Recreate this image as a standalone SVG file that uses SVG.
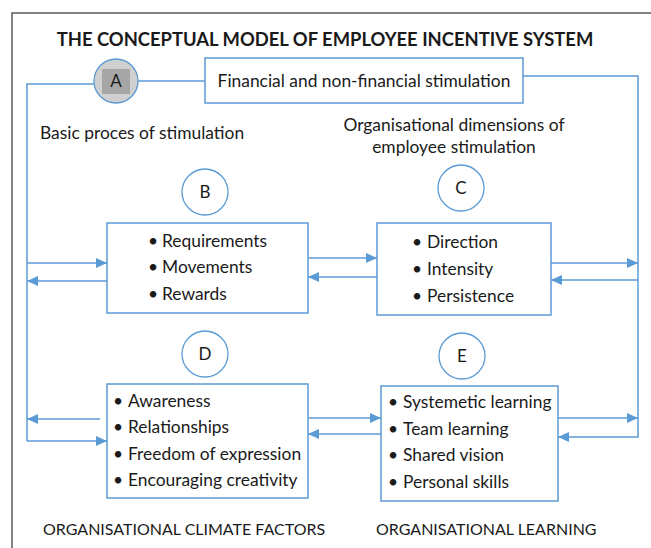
<svg xmlns="http://www.w3.org/2000/svg" width="651" height="548" viewBox="0 0 651 548">
<style>
text{font-family:Lato,"Open Sans","Liberation Sans",sans-serif;fill:#1a1a1a}
.t{font-size:17.4px}
.b{font-size:17.4px;text-anchor:middle}
.cap{font-size:16px}
.circ{fill:#fff;stroke:#5b9bd5;stroke-width:1.3}
.box{fill:#fff;stroke:#5b9bd5;stroke-width:1.5}
.ln{fill:none;stroke:#5b9bd5;stroke-width:1.5}
.ltr{font-size:17px;text-anchor:middle}
</style>
<defs>
<marker id="ah" markerUnits="userSpaceOnUse" markerWidth="12" markerHeight="12" refX="11" refY="6" orient="auto">
<path d="M0,1 L11,6 L0,11 Z" fill="#5b9bd5"/>
</marker>
</defs>
<rect width="651" height="548" fill="#fff"/>
<rect x="12" y="13" width="700" height="600" fill="none" stroke="#595959" stroke-width="1.5"/>
<text x="325" y="46" font-size="18.4" font-weight="bold" text-anchor="middle">THE CONCEPTUAL MODEL OF EMPLOYEE INCENTIVE SYSTEM</text>
<g id="connectors">
<path class="ln" d="M27,441 V84 H94"/>
<path class="ln" d="M138,81 H205"/>
<path class="ln" d="M523,76 H638 V437 H558" marker-end="url(#ah)"/>
<path class="ln" d="M27,263 H107" marker-end="url(#ah)"/>
<path class="ln" d="M107,281 H27" marker-end="url(#ah)"/>
<path class="ln" d="M308,258 H377" marker-end="url(#ah)"/>
<path class="ln" d="M377,277 H308" marker-end="url(#ah)"/>
<path class="ln" d="M551,263 H638" marker-end="url(#ah)"/>
<path class="ln" d="M638,280 H551" marker-end="url(#ah)"/>
<path class="ln" d="M100,419 H27" marker-end="url(#ah)"/>
<path class="ln" d="M27,441 H107" marker-end="url(#ah)"/>
<path class="ln" d="M308,418 H381" marker-end="url(#ah)"/>
<path class="ln" d="M381,434 H308" marker-end="url(#ah)"/>
<path class="ln" d="M558,418 H638" marker-end="url(#ah)"/>
</g>
<g id="nodeA">
<circle cx="116" cy="81" r="22" fill="#d0d0d0" stroke="#5b9bd5" stroke-width="1.3"/>
<rect x="102" y="69" width="28" height="25" fill="#a6a6a6"/>
<text class="ltr" x="116" y="87">A</text>
</g>
<g id="financial">
<rect class="box" x="205" y="58" width="318" height="45"/>
<text class="t" x="364" y="87" text-anchor="middle">Financial and non-financial stimulation</text>
</g>
<g id="labels">
<text class="t" x="40" y="139">Basic proces of stimulation</text>
<text class="t" x="454" y="131" text-anchor="middle">Organisational dimensions of</text>
<text class="t" x="454" y="153" text-anchor="middle">employee stimulation</text>
<text class="cap" x="43" y="535">ORGANISATIONAL CLIMATE FACTORS</text>
<text class="cap" x="376" y="535">ORGANISATIONAL LEARNING</text>
</g>
<g id="nodeB">
<circle class="circ" cx="205" cy="192" r="23"/>
<text class="ltr" x="205" y="198">B</text>
<rect class="box" x="107" y="223" width="201" height="90"/>
<text class="b" x="153" y="247">•</text><text class="t" x="162" y="247">Requirements</text>
<text class="b" x="153" y="273">•</text><text class="t" x="162" y="273">Movements</text>
<text class="b" x="153" y="300">•</text><text class="t" x="162" y="300">Rewards</text>
</g>
<g id="nodeC">
<circle class="circ" cx="461" cy="188" r="23"/>
<text class="ltr" x="461" y="194">C</text>
<rect class="box" x="377" y="223" width="174" height="92"/>
<text class="b" x="417" y="248">•</text><text class="t" x="427" y="248">Direction</text>
<text class="b" x="417" y="275">•</text><text class="t" x="427" y="275">Intensity</text>
<text class="b" x="417" y="302">•</text><text class="t" x="427" y="302">Persistence</text>
</g>
<g id="nodeD">
<circle class="circ" cx="205" cy="354" r="23"/>
<text class="ltr" x="205" y="360">D</text>
<rect class="box" x="107" y="384" width="201" height="114"/>
<text class="b" x="118" y="407">•</text><text class="t" x="128" y="407">Awareness</text>
<text class="b" x="118" y="433">•</text><text class="t" x="128" y="433">Relationships</text>
<text class="b" x="118" y="460">•</text><text class="t" x="128" y="460">Freedom of expression</text>
<text class="b" x="118" y="486">•</text><text class="t" x="128" y="486">Encouraging creativity</text>
</g>
<g id="nodeE">
<circle class="circ" cx="462" cy="356" r="23"/>
<text class="ltr" x="462" y="362">E</text>
<rect class="box" x="381" y="386" width="177" height="115"/>
<text class="b" x="393" y="408">•</text><text class="t" x="403" y="408">Systemetic learning</text>
<text class="b" x="393" y="435">•</text><text class="t" x="403" y="435">Team learning</text>
<text class="b" x="393" y="461">•</text><text class="t" x="403" y="461">Shared vision</text>
<text class="b" x="393" y="488">•</text><text class="t" x="403" y="488">Personal skills</text>
</g>
</svg>
